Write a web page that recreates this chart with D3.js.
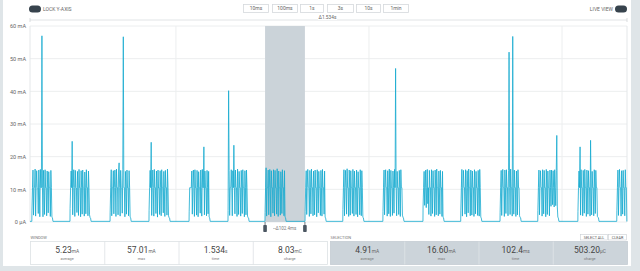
<!DOCTYPE html>
<html><head><meta charset="utf-8">
<script src="https://cdn.jsdelivr.net/npm/d3@7"></script>
<style>html,body{margin:0;padding:0;background:#dfe5e8;overflow:hidden}svg{display:block;font-family:Roboto,"Noto Sans",sans-serif}</style>
</head><body><svg id="c" width="640" height="271"></svg>
<script>
// ---------- DATA ----------
const windowMs = 1534;
const sampleStepMs = 1.35;
const baselineMa = 0.2;
const yTicks = [0, 10, 20, 30, 40, 50, 60];
const yTickLabels = ["0 μA", "10 mA", "20 mA", "30 mA", "40 mA", "50 mA", "60 mA"];
const vGridMs = [375, 871, 1367];
const burstStartMs = [5, 103, 206, 306, 409, 509, 604, 707, 804, 907, 1010, 1107, 1208, 1305, 1408, 1508];
const b01 = [3.4,10.5,15.9,2.1,10.5,10.6,16.2,1.8,10.5,15.7,10.5,10.4,2.6,15.9,10.5,1.6,16.1,10.5,10.5,57.0,10.6,1.6,15.8,10.5,2.3,16.0,10.5,10.5,1.9,15.6,10.5,2.8,15.4,10.5,10.5,1.7,15.8,10.5,1.5,1.3];
const b02 = [4.1,10.5,15.6,10.5,24.7,2.2,10.5,16.0,10.6,1.7,15.8,10.5,10.4,2.9,15.5,10.5,2.0,16.1,10.5,10.5,1.6,15.7,10.5,2.4,15.9,10.6,10.5,1.8,15.3,10.5,2.5,16.0,10.5,10.5,1.9,15.6,10.5,2.2,1.4,1.2];
const b03 = [3.0,10.5,16.0,1.9,10.5,10.5,15.7,2.5,10.6,15.9,10.5,1.7,16.2,10.5,10.5,2.2,15.6,18.1,10.5,1.8,15.8,10.5,10.4,2.7,16.0,56.7,10.5,10.5,1.6,15.5,10.5,2.4,15.9,10.5,10.5,1.9,15.7,10.5,1.5,1.3];
const b04 = [3.6,10.5,15.8,10.5,24.4,2.0,10.5,15.9,10.6,1.8,16.1,10.5,10.5,2.6,15.6,10.5,1.5,15.9,10.4,10.5,2.3,15.7,10.5,1.9,16.0,10.5,10.5,2.8,15.5,10.5,1.7,15.8,10.5,10.5,2.1,16.2,10.5,1.9,1.4,1.2];
const b05 = [3.1,10.5,10.5,10.5,10.5,15.6,2.4,10.5,15.9,10.6,1.7,16.0,10.5,10.5,2.1,15.8,10.5,1.6,15.4,10.5,10.5,2.7,15.9,10.5,1.8,16.1,10.5,10.5,23.0,2.2,15.6,10.5,10.5,1.9,15.8,10.5,2.5,15.5,1.5,1.3];
const b06 = [3.5,40.2,15.8,2.0,10.5,10.5,16.0,10.5,1.9,15.7,10.5,23.5,10.5,2.5,15.9,10.6,10.5,1.7,16.2,10.5,2.3,15.5,10.5,10.5,1.8,15.8,10.5,2.6,16.0,10.5,10.5,1.6,15.7,10.5,2.2,15.9,10.5,1.8,1.4,1.2];
const b07 = [2.9,10.5,16.6,1.8,10.5,10.5,15.9,2.2,10.5,16.1,10.4,1.6,15.7,10.5,10.5,2.7,16.0,10.5,1.9,15.8,10.5,10.5,2.4,16.3,10.5,1.7,15.6,10.5,10.5,2.1,15.4,10.5,2.6,16.0,10.5,10.5,1.9,15.7,1.5,1.3];
const b08 = [3.3,10.5,15.7,2.3,10.5,16.1,10.6,10.5,1.7,15.8,10.5,2.5,16.2,10.5,10.5,1.9,15.6,10.5,2.2,15.9,10.5,10.5,1.6,16.0,10.4,2.8,15.5,10.5,10.5,2.0,15.8,10.5,1.8,16.1,10.5,10.5,2.4,15.6,1.5,1.2];
const b09 = [3.8,10.5,16.0,1.9,10.5,15.8,10.5,2.4,16.3,10.5,10.5,1.7,15.9,10.6,2.1,15.7,10.5,10.5,2.6,16.1,10.5,1.8,15.6,10.5,10.5,2.3,15.9,10.5,1.6,15.4,10.5,10.5,2.2,16.0,10.5,1.9,15.7,10.5,1.4,1.3];
const b10 = [3.2,10.5,15.9,2.2,10.5,16.0,10.5,10.5,1.8,15.7,10.5,2.5,16.2,10.4,1.7,15.8,10.5,10.5,2.0,15.6,10.5,2.7,16.1,10.5,47.0,10.5,1.9,15.5,10.5,10.5,2.3,15.8,10.5,1.7,16.0,10.5,10.5,2.1,1.5,1.2];
const b11 = [4.6,10.5,15.5,5.1,10.5,15.9,4.4,10.5,16.1,5.6,10.5,2.3,15.8,10.5,10.5,1.8,16.0,10.5,2.6,15.7,10.5,10.5,1.7,15.9,10.4,2.2,16.2,10.5,10.5,1.9,15.6,10.5,2.4,15.8,10.5,10.5,1.7,15.5,1.4,1.3];
const b12 = [3.4,10.5,16.1,1.8,10.5,15.8,10.5,10.5,2.4,16.0,10.5,1.6,15.7,10.5,2.8,16.2,10.5,10.5,1.9,15.9,10.5,2.1,15.6,10.5,10.5,1.7,16.0,10.4,2.5,15.5,10.5,10.5,2.0,15.8,10.5,1.8,16.1,10.5,1.5,1.2];
const b13 = [3.0,10.5,15.8,2.0,10.5,16.1,10.5,10.5,1.7,15.9,10.5,2.6,16.0,10.5,10.5,1.9,15.7,52.0,10.5,2.3,16.2,10.5,10.5,1.8,56.8,10.5,2.4,15.9,10.5,10.5,1.7,15.6,10.5,2.2,16.0,10.5,10.5,1.9,1.4,1.3];
const b14 = [3.5,10.5,15.9,2.2,10.5,15.7,10.5,10.5,1.8,16.0,10.5,2.5,15.8,10.5,10.5,1.6,16.1,10.5,2.3,15.6,10.5,10.5,1.9,15.9,10.5,4.8,15.9,10.5,5.3,15.7,10.5,4.6,16.0,10.5,5.0,15.8,26.5,4.6,1.5,1.2];
const b15 = [3.3,10.5,15.6,10.5,23.0,2.1,16.0,10.5,10.5,1.9,15.8,10.5,2.7,16.1,10.5,10.5,1.7,15.9,10.5,2.4,15.7,10.5,10.5,1.8,25.0,10.5,2.2,15.5,10.5,10.5,1.9,16.0,10.5,2.6,15.8,10.5,10.5,1.7,1.4,1.3];
const b16 = [3.6,10.5,15.9,2.0,10.5,16.1,10.5,10.5,1.8,15.7,10.5,2.4,15.8,10.5,10.5,1.9,16.0,10.5,10.5];
const bursts = [b01,b02,b03,b04,b05,b06,b07,b08,b09,b10,b11,b12,b13,b14,b15,b16];
const deltaWindow = "Δ1.534s";
const selectionMs = [604, 706.4];
const deltaSelection = "Δ102.4ms";
const timeButtons = ["10ms", "100ms", "1s", "3s", "10s", "1min"];
const statLabels = ["average", "max", "time", "charge"];
const windowValues = ["5.23", "57.01", "1.534", "8.03"];
const windowUnits = ["mA", "mA", "s", "mC"];
const selValues = ["4.91", "16.60", "102.4", "503.20"];
const selUnits = ["mA", "mA", "ms", "μC"];

// ---------- BUILD SERIES ----------
const series = [{t: 0, v: baselineMa}];
bursts.forEach((b, k) => {
  const s = burstStartMs[k];
  series.push({t: s - 0.3, v: baselineMa});
  b.forEach((v, i) => series.push({t: s + i * sampleStepMs, v}));
  const end = s + b.length * sampleStepMs;
  if (end < windowMs) series.push({t: end, v: baselineMa});
});
if (series[series.length - 1].t < windowMs) series.push({t: windowMs, v: series[series.length - 1].v});

// ---------- DRAW ----------
const svg = d3.select("#c");
const L = 30, R = 627, T = 26, B = 222;
const x = d3.scaleLinear([0, windowMs], [L, R]);
const y = d3.scaleLinear([0, 60], [B, T]);

svg.append("rect").attr("x", 3).attr("y", 0).attr("width", 628).attr("height", 266).attr("fill", "#fff");

// top controls
const pill = (cx, cy) => svg.append("rect").attr("x", cx - 6).attr("y", cy - 3.5).attr("width", 12).attr("height", 7).attr("rx", 3.5).attr("fill", "#37434d");
pill(35, 9);
svg.append("text").attr("x", 43).attr("y", 11).attr("font-size", 5).attr("fill", "#666").text("LOCK Y-AXIS");
pill(621, 9);
svg.append("text").attr("x", 613).attr("y", 11).attr("font-size", 5).attr("fill", "#666").attr("text-anchor", "end").text("LIVE VIEW");
const btnX = [243, 272, 300, 327, 356, 383], btnW = [25, 25, 23, 26, 24, 25];
timeButtons.forEach((t, i) => {
  svg.append("rect").attr("x", btnX[i] + 0.5).attr("y", 4.5).attr("width", btnW[i]).attr("height", 8).attr("fill", "#fff").attr("stroke", "#d5d9dc").attr("stroke-width", 0.8);
  svg.append("text").attr("x", btnX[i] + btnW[i] / 2 + 0.5).attr("y", 10.3).attr("font-size", 5).attr("fill", "#666").attr("text-anchor", "middle").text(t);
});

// delta window line
svg.append("line").attr("x1", L).attr("x2", R).attr("y1", 20).attr("y2", 20).attr("stroke", "#d9dde0").attr("stroke-width", 0.8);
[L, R].forEach(px => svg.append("line").attr("x1", px).attr("x2", px).attr("y1", 18).attr("y2", 22).attr("stroke", "#d0d4d7").attr("stroke-width", 0.8));
svg.append("rect").attr("x", 318).attr("y", 15).attr("width", 19).attr("height", 5).attr("fill", "#fff");
svg.append("text").attr("x", 327.5).attr("y", 19).attr("font-size", 4.8).attr("fill", "#666").attr("text-anchor", "middle").text(deltaWindow);

// grid
svg.append("g").selectAll("line").data(yTicks).join("line")
  .attr("x1", L).attr("x2", R).attr("y1", d => y(d)).attr("y2", d => y(d))
  .attr("stroke", "#eceeef").attr("stroke-width", 1);
svg.append("g").selectAll("line").data(vGridMs).join("line")
  .attr("x1", d => x(d)).attr("x2", d => x(d)).attr("y1", T).attr("y2", B)
  .attr("stroke", "#eceeef").attr("stroke-width", 1);
svg.append("line").attr("x1", L).attr("x2", L).attr("y1", T).attr("y2", B).attr("stroke", "#e4e7e9");
svg.append("line").attr("x1", R).attr("x2", R).attr("y1", T).attr("y2", B).attr("stroke", "#e4e7e9");

// y axis labels
const yAxis = d3.axisLeft(y).tickValues(yTicks).tickFormat((d, i) => yTickLabels[i]).tickSize(0).tickPadding(4);
const ya = svg.append("g").attr("transform", `translate(${L},0)`).call(yAxis);
ya.select(".domain").remove();
ya.selectAll("text").attr("font-size", 5.5).attr("fill", "#666").attr("font-family", "Roboto");

// selection
svg.append("rect").attr("x", x(selectionMs[0])).attr("y", T).attr("width", x(selectionMs[1]) - x(selectionMs[0])).attr("height", B - T).attr("fill", "#cbd3d9");

// trace
svg.append("path").datum(series)
  .attr("d", d3.line().x(d => x(d.t)).y(d => y(d.v)))
  .attr("fill", "none").attr("stroke", "#14a9cf").attr("stroke-width", 0.8).attr("stroke-linejoin", "miter");

// handles
selectionMs.forEach(ms => {
  const px = x(ms);
  svg.append("line").attr("x1", px).attr("x2", px).attr("y1", B).attr("y2", 226).attr("stroke", "#4b5661").attr("stroke-width", 0.8);
  svg.append("rect").attr("x", px - 1.8).attr("y", 225).attr("width", 3.6).attr("height", 7).attr("rx", 0.8).attr("fill", "#4b5661");
});
const mid = (x(selectionMs[0]) + x(selectionMs[1])) / 2;
svg.append("text").attr("x", mid + 1).attr("y", 230).attr("font-size", 4.5).attr("fill", "#777").attr("text-anchor", "middle").text(deltaSelection);
svg.append("line").attr("x1", mid - 12).attr("x2", mid - 9).attr("y1", 228.5).attr("y2", 228.5).attr("stroke", "#999").attr("stroke-width", 0.5);

// stats panels
function panel(x0, x1, title, vals, units, fill, divider) {
  svg.append("text").attr("x", x0 + 0.5).attr("y", 239).attr("font-size", 4).attr("fill", "#777").text(title);
  svg.append("rect").attr("x", x0 + 0.5).attr("y", 241.5).attr("width", x1 - x0).attr("height", 23).attr("fill", fill).attr("stroke", fill === "#fff" ? "#dde1e4" : "#c5cdd3").attr("stroke-width", 0.8);
  const w = (x1 - x0) / 4;
  for (let i = 0; i < 4; i++) {
    if (i > 0) svg.append("line").attr("x1", x0 + w * i + 0.5).attr("x2", x0 + w * i + 0.5).attr("y1", 241.5).attr("y2", 264.5).attr("stroke", divider).attr("stroke-width", 0.8);
    const cx = x0 + w * i + w / 2;
    const t = svg.append("text").attr("x", cx).attr("y", 253).attr("text-anchor", "middle").attr("fill", "#444");
    t.append("tspan").attr("font-size", 8.5).text(vals[i]);
    t.append("tspan").attr("font-size", 4.8).attr("fill", "#666").text(units[i]);
    svg.append("text").attr("x", cx).attr("y", 260).attr("text-anchor", "middle").attr("font-size", 3.8).attr("fill", "#777").text(statLabels[i]);
  }
}
panel(30, 327, "WINDOW", windowValues, windowUnits, "#fff", "#dde1e4");
panel(330, 627, "SELECTION", selValues, selUnits, "#ccd4da", "#e0e5e8");

// select all / clear
[["SELECT ALL", 580, 27], ["CLEAR", 608, 18]].forEach(([t, bx, bw]) => {
  svg.append("rect").attr("x", bx + 0.5).attr("y", 234.5).attr("width", bw).attr("height", 5.5).attr("fill", "#fff").attr("stroke", "#c9ced2").attr("stroke-width", 0.6);
  svg.append("text").attr("x", bx + bw / 2 + 0.5).attr("y", 238.8).attr("font-size", 3.8).attr("fill", "#555").attr("text-anchor", "middle").text(t);
});
</script></body></html>
